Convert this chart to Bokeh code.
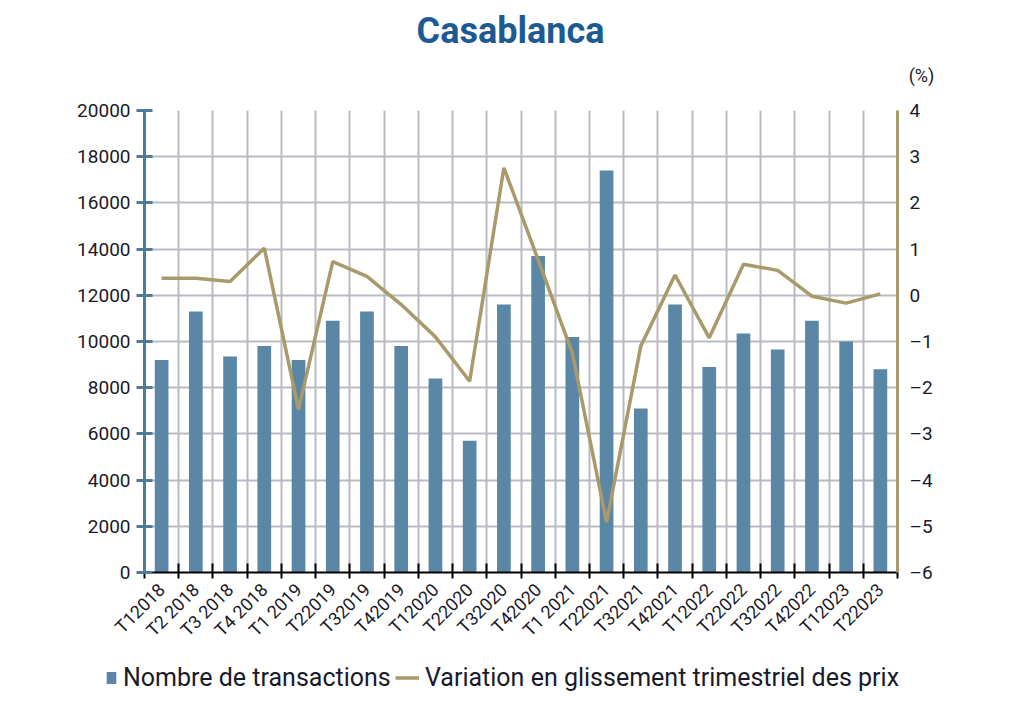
import math
from bokeh.plotting import figure
from bokeh.layouts import column
from bokeh.models import (Range1d, LinearAxis, FixedTicker, Label, Legend,
                          LegendItem, ColumnDataSource)
from bokeh.embed import file_html
from bokeh.resources import INLINE

quarters = ["T12018", "T2 2018", "T3 2018", "T4 2018", "T1 2019", "T22019",
            "T32019", "T42019", "T12020", "T22020", "T32020", "T42020",
            "T1 2021", "T22021", "T32021", "T42021", "T12022", "T22022",
            "T32022", "T42022", "T12023", "T22023"]
transactions = [9200, 11300, 9350, 9800, 9200, 10900, 11300, 9800, 8400, 5700,
                11600, 13700, 10200, 17400, 7100, 11600, 8900, 10350, 9650,
                10900, 10000, 8800]
price_var = [0.37, 0.37, 0.30, 1.02, -2.47, 0.73, 0.41, -0.20, -0.90, -1.86,
             2.76, 0.77, -1.25, -4.91, -1.10, 0.44, -0.92, 0.67, 0.54, -0.02,
             -0.17, 0.03]
left_ticks = [0, 2000, 4000, 6000, 8000, 10000, 12000, 14000, 16000, 18000, 20000]
right_ticks = [-6, -5, -4, -3, -2, -1, 0, 1, 2, 3, 4]
title_text = "Casablanca"
unit_text = "(%)"
bar_label = "Nombre de transactions"
line_label = "Variation en glissement trimestriel des prix"

FONT = "Roboto"
TXT = "#1a1a2a"
BAR = "#5a87a5"
LINE = "#a99a6b"
GRID = "#b9bac4"
AXBLUE = "#4f7b9a"

n = len(quarters)
idx = list(range(n))
src = ColumnDataSource(dict(x=idx, n=transactions, v=price_var))


def strip(h):
    f = figure(width=1024, height=h, output_backend="svg", toolbar_location=None,
               x_range=Range1d(0, 1024), y_range=Range1d(0, h),
               x_axis_type=None, y_axis_type=None, min_border=0)
    f.outline_line_color = None
    f.xgrid.visible = False
    f.ygrid.visible = False
    f.frame_align = False
    return f


# ---- title strip ----
TOP_H = 98
tf = strip(TOP_H)
tf.add_layout(Label(x=510, y=TOP_H - 30, text=title_text, text_align="center",
                    text_baseline="middle", text_font=FONT,
                    text_font_style="bold", text_font_size="36px",
                    text_color="#1d5a94"))
tf.add_layout(Label(x=921, y=TOP_H - 75, text=unit_text, text_align="center",
                    text_baseline="middle", text_font=FONT,
                    text_font_size="18px", text_color=TXT))

# ---- main chart ----
p = figure(width=1024, height=650 - TOP_H, output_backend="svg",
           toolbar_location=None,
           x_range=Range1d(-0.5, n - 0.5),
           y_range=Range1d(left_ticks[0], left_ticks[-1]),
           min_border_left=144, min_border_right=127,
           min_border_top=110 - TOP_H, min_border_bottom=76)
p.outline_line_color = None
p.background_fill_color = "white"
p.frame_align = False

p.extra_y_ranges = {"pct": Range1d(right_ticks[0], right_ticks[-1])}

p.xgrid.ticker = FixedTicker(ticks=[i + 0.5 for i in range(n - 1)])
p.ygrid.ticker = FixedTicker(ticks=left_ticks[1:-1])
for g in (p.xgrid[0], p.ygrid[0]):
    g.grid_line_color = GRID
    g.grid_line_width = 2

bars = p.vbar(x="x", top="n", width=0.4, source=src, fill_color=BAR,
              line_color=None)
line = p.line(x="x", y="v", source=src, y_range_name="pct",
              line_color=LINE, line_width=3.5)

xa = p.xaxis[0]
xa.ticker = FixedTicker(ticks=idx, minor_ticks=[i - 0.5 for i in range(n + 1)])
xa.major_label_overrides = {i: q for i, q in enumerate(quarters)}
xa.major_label_orientation = math.pi / 4
xa.major_tick_line_color = None
xa.major_tick_in = 0
xa.major_tick_out = 0
xa.minor_tick_line_color = "black"
xa.minor_tick_line_width = 2
xa.minor_tick_in = 9
xa.minor_tick_out = 6
xa.axis_line_color = "black"
xa.axis_line_width = 2
xa.major_label_standoff = 8
xa.major_label_text_font = FONT
xa.major_label_text_font_size = "18px"
xa.major_label_text_color = TXT

ya = p.yaxis[0]
ya.ticker = FixedTicker(ticks=left_ticks)
ya.axis_line_color = AXBLUE
ya.axis_line_width = 3
ya.major_tick_line_color = AXBLUE
ya.major_tick_line_width = 3
ya.major_tick_in = 8
ya.major_tick_out = 8
ya.minor_tick_line_color = None
ya.major_label_standoff = 6
ya.major_label_text_font = FONT
ya.major_label_text_font_size = "19px"
ya.major_label_text_color = TXT

ra = LinearAxis(y_range_name="pct", ticker=FixedTicker(ticks=right_ticks))
ra.major_label_overrides = {t: (str(t) if t >= 0 else "\u2013" + str(-t)) for t in right_ticks}
ra.axis_line_color = LINE
ra.axis_line_width = 3
ra.major_tick_line_color = None
ra.major_tick_in = 0
ra.major_tick_out = 0
ra.minor_tick_line_color = None
ra.major_label_standoff = 12
ra.major_label_text_font = FONT
ra.major_label_text_font_size = "19px"
ra.major_label_text_color = TXT
p.add_layout(ra, "right")

# ---- legend strip ----
LEG_H = 61
lf = strip(LEG_H)
dummy = ColumnDataSource(dict(x=[-100], n=[-100], v=[-100]))
lbar = lf.vbar(x="x", top="n", width=0.4, source=dummy, fill_color=BAR,
               line_color=None)
lline = lf.line(x="x", y="v", source=dummy, line_color=LINE, line_width=3.5)


def mk_legend(item, loc, gw):
    return Legend(items=[item], location=loc, orientation="horizontal",
                  label_text_font=FONT, label_text_font_size="25px",
                  label_text_color=TXT, glyph_width=gw, glyph_height=15,
                  label_standoff=6, padding=0, margin=0, spacing=0,
                  background_fill_alpha=0, border_line_color=None)


lf.add_layout(mk_legend(LegendItem(label=bar_label, renderers=[lbar]), (105, 19), 12))
lf.add_layout(mk_legend(LegendItem(label=line_label, renderers=[lline]), (395, 19), 24))

layout = column(tf, p, lf, spacing=0)
open("out.html", "w").write(file_html(layout, INLINE))
